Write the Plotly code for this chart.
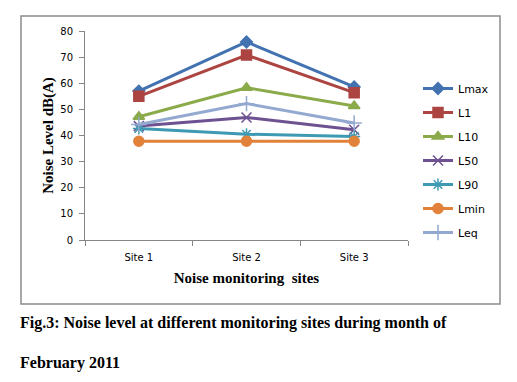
import plotly.graph_objects as go

sites = ["Site 1", "Site 2", "Site 3"]
series_names = ["Lmax", "L1", "L10", "L50", "L90", "Lmin", "Leq"]
lmax = [57.0, 75.8, 58.6]
l1 = [55.0, 70.8, 56.4]
l10 = [47.2, 58.3, 51.3]
l50 = [43.6, 46.9, 42.2]
l90 = [42.7, 40.5, 39.6]
lmin = [37.8, 37.8, 37.8]
leq = [44.2, 52.2, 44.8]
values = [lmax, l1, l10, l50, l90, lmin, leq]

colors = ["#4272B0", "#AC4441", "#8BAA4A", "#6E5191", "#3E99B3", "#E2823A", "#93A9D0"]
symbols = ["diamond", "square", "triangle-up", "x-thin-open", "asterisk-open", "circle", "cross-thin-open"]
sizes = [9, 10, 10, 10, 10, 10, 11]

OFF = 8  # page body margin
W, H = 517 - OFF, 382 - OFF
L, R, T, B = 85 - OFF, 109, 31 - OFF, 142
pw, ph = W - L - R, H - T - B

def px(x):
    return (x - OFF - L) / pw

def py(y):
    return (H - B - (y - OFF)) / ph

fig = go.Figure()
for i, (name, vals) in enumerate(zip(series_names, values)):
    fig.add_trace(go.Scatter(
        x=sites, y=vals, name=name, mode="lines+markers",
        legendgroup=name,
        line=dict(color=colors[i], width=3),
        marker=dict(symbol=symbols[i], size=sizes[i], color=colors[i],
                    line=dict(color=colors[i], width=1.5)),
    ))

fig.update_layout(
    width=W, height=H,
    margin=dict(l=L, r=R, t=T, b=B, autoexpand=False),
    paper_bgcolor="white", plot_bgcolor="white",
    font=dict(family="DejaVu Sans", size=10, color="#000000"),
    showlegend=True,
    legend=dict(x=px(418), y=py(74), xanchor="left", yanchor="top",
                font=dict(family="DejaVu Sans", size=11, color="#000"),
                tracegroupgap=5, itemwidth=30, bgcolor="rgba(0,0,0,0)"),
    xaxis=dict(type="category", tickson="boundaries", ticks="outside", ticklen=5,
               tickcolor="#868686", showline=True, linecolor="#868686", linewidth=1,
               showgrid=False, range=[-0.5, 2.5], automargin=False, ticklabelstandoff=8,
               title=dict(text="<b>Noise monitoring  sites</b>", standoff=10,
                          font=dict(family="Liberation Serif", size=15, color="#000"))),
    yaxis=dict(range=[0, 80], dtick=10, ticks="outside", ticklen=5, tickcolor="#868686",
               showline=True, linecolor="#868686", linewidth=1, showgrid=False, zeroline=False,
               automargin=False, ticklabelstandoff=4,
               title=dict(text="<b>Noise Level dB(A)</b>", standoff=3,
                          font=dict(family="Liberation Serif", size=15, color="#000"))),
    shapes=[dict(type="rect", xref="paper", yref="paper",
                 x0=px(21), x1=px(500), y0=py(304), y1=py(16),
                 line=dict(color="#8C8C8C", width=1.5), fillcolor="rgba(0,0,0,0)", layer="below")],
    annotations=[
        dict(text="<b>Fig.3: Noise level at different monitoring sites during month of</b>",
             xref="paper", yref="paper", x=px(18), y=py(323), xanchor="left", yanchor="middle",
             showarrow=False, font=dict(family="Liberation Serif", size=16, color="#000")),
        dict(text="<b>February 2011</b>",
             xref="paper", yref="paper", x=px(18), y=py(363), xanchor="left", yanchor="middle",
             showarrow=False, font=dict(family="Liberation Serif", size=16, color="#000")),
    ],
)

fig.write_html("out.html")
